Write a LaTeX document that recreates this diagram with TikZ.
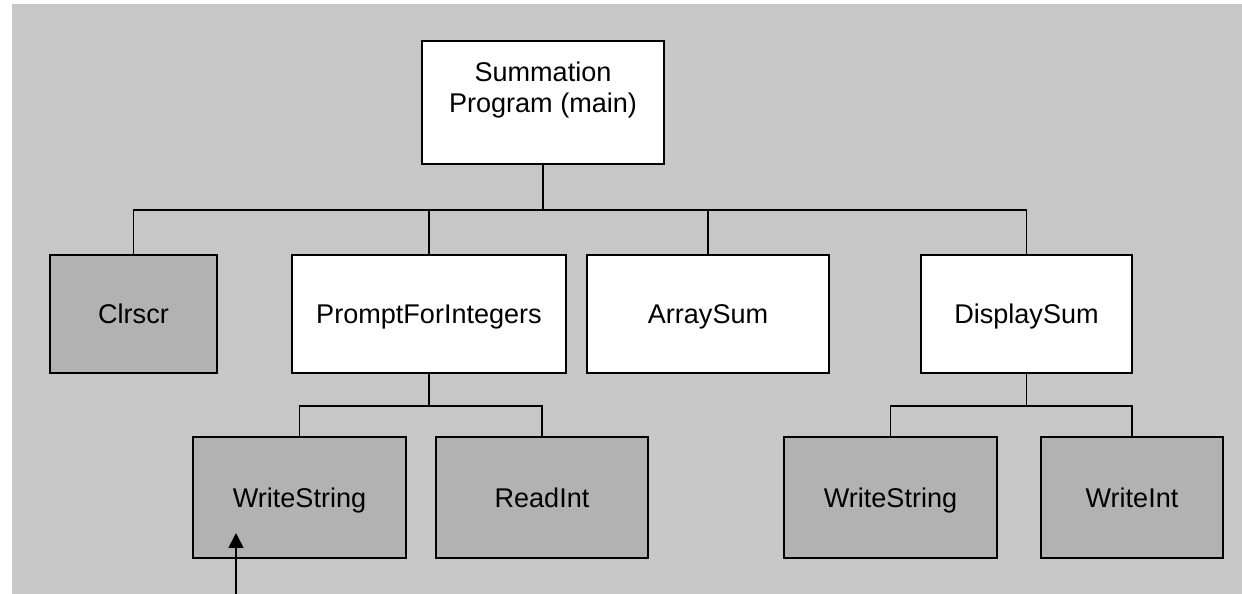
\documentclass[tikz,border=0pt]{standalone}
\usepackage{fontspec}
\setmainfont{Liberation Sans}
\usepackage{xcolor}
\definecolor{paneGray}{HTML}{C7C7C7}
\definecolor{libGray}{HTML}{B2B2B2}
\usetikzlibrary{arrows.meta}

\tikzset{
  module/.style={draw, line width=1.1pt, fill=white, inner sep=0pt, align=center,
    text height=11pt, text depth=0pt, font=\fontsize{15.4}{17.6}\selectfont},
  libcall/.style={module, fill=libGray},
  link/.style={line width=1.1pt}
}

\begin{document}
\begin{tikzpicture}[x=0.02cm, y=-0.02cm, >=Stealth]
  % canvas
  \useasboundingbox (0,0) rectangle (1242,594);
  \fill[paneGray] (12,4) rectangle (1242,594);
  % main program
  \node[module, minimum width=4.84cm, minimum height=2.46cm] (main) at (543,102.5)
    {Summation\\Program (main)};
  % first level
  \node[libcall, minimum width=3.34cm, minimum height=2.36cm] (clrscr) at (133.5,314) {Clrscr};
  \node[module, minimum width=5.48cm, minimum height=2.36cm] (prompt) at (429,314) {PromptForIntegers};
  \node[module, minimum width=4.84cm, minimum height=2.36cm] (arraysum) at (708,314) {ArraySum};
  \node[module, minimum width=4.22cm, minimum height=2.36cm] (display) at (1026.5,314) {DisplaySum};
  % second level
  \node[libcall, minimum width=4.26cm, minimum height=2.42cm] (wstrA) at (299.5,497.5) {WriteString};
  \node[libcall, minimum width=4.24cm, minimum height=2.42cm] (readint) at (542,497.5) {ReadInt};
  \node[libcall, minimum width=4.26cm, minimum height=2.42cm] (wstrB) at (890.5,497.5) {WriteString};
  \node[libcall, minimum width=3.64cm, minimum height=2.42cm] (writeint) at (1132,497.5) {WriteInt};
  % buses
  \coordinate (busTop) at (543,210);
  \coordinate (busL) at (429,406);
  \coordinate (busR) at (1026.5,406);
  \draw[link] (main.south) -- (busTop);
  \draw[link] (clrscr.north) |- (busTop) -| (display.north);
  \foreach \m in {prompt,arraysum} \draw[link] (\m.north) -- (\m.north |- busTop);
  \draw[link] (prompt.south) -- (busL);
  \draw[link] (wstrA.north) |- (busL) -| (readint.north);
  \draw[link] (display.south) -- (busR);
  \draw[link] (wstrB.north) |- (busR) -| (writeint.north);
  % pointer
  \coordinate (ptrTail) at (236,594);
  \coordinate (ptrTip) at (236,533);
  \draw[line width=1pt, -{Triangle[length=0.3cm, width=0.3cm]}] (ptrTail) -- (ptrTip);
\end{tikzpicture}
\end{document}
